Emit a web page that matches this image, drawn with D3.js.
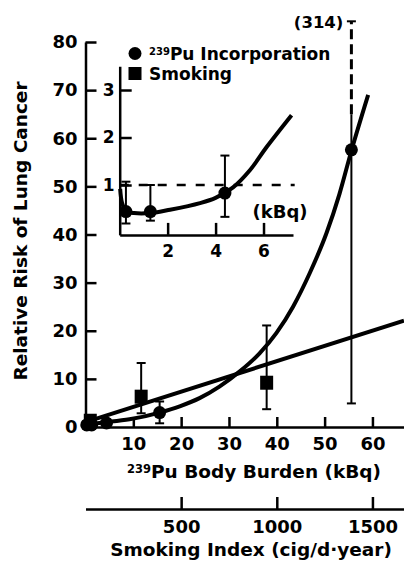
<!DOCTYPE html>
<html>
<head>
<meta charset="utf-8">
<script src="https://cdn.jsdelivr.net/npm/d3@7"></script>
<style>
  html, body { margin: 0; padding: 0; background: #fff; }
  svg { display: block; font-family: "DejaVu Sans", sans-serif; font-weight: bold; }
</style>
</head>
<body>
<svg id="chart" width="404" height="566"></svg>
<script>
// 239Pu incorporation: body burden (kBq) against relative risk, with confidence limits
const puBurden = [0.26, 1.28, 4.39, 15.5, 55.6];
const puRisk   = [0.44, 0.44, 0.83, 3.0, 57.6];
const puLow    = [0.19, 0.25, 0.33, 0.77, 4.9];
const puHigh   = [1.07, 1.0, 1.62, 5.3, 314];

// Smoking: smoking index (cig/d·year) against relative risk
const smokeIndex = [25, 291, 947];
const smokeRisk  = [1.3, 6.3, 9.2];
const smokeLow   = [null, 2.85, 3.7];
const smokeHigh  = [null, 13.3, 21.1];

// Fitted dose-response curves
const puFitBurden = [0, 3.3, 9.2, 15.5, 19.7, 23.85, 28.0, 32.2, 36.4, 39.9, 43.4, 46.9, 50.4, 53.1, 55.6, 59.1];
const puFitRisk   = [0.5, 0.9, 1.6, 3.0, 4.3, 6.0, 8.4, 11.5, 15.3, 19.5, 25.0, 32.0, 40.3, 48.4, 57.4, 69.0];
const lowFitBurden = [0.02, 0.1, 0.26, 0.6, 1.3, 2.1, 3.35, 4.0, 4.73, 5.43, 6.13, 7.17];
const lowFitRisk   = [0.92, 0.62, 0.46, 0.41, 0.41, 0.48, 0.62, 0.73, 0.95, 1.31, 1.8, 2.47];
const smokeFitIndex = [0, 1665];
const smokeFitRisk  = [1.0, 22.1];

// Tick values
const riskTicks = [0, 10, 20, 30, 40, 50, 60, 70, 80];
const burdenTicks = [10, 20, 30, 40, 50, 60];
const indexTicks = [500, 1000, 1500];
const insetRiskTicks = [1, 2, 3];
const insetBurdenTicks = [2, 4, 6];

// Off-scale upper limit: solid up to the break, dashed beyond the axis top
const BREAK_RISK = 65;
const OFFSCALE_RISK = 84.3;

const svg = d3.select("#chart");
const fmt = d3.format("d");

const x  = d3.scaleLinear().domain([0, 66.6]).range([85.5, 404]);
const xs = d3.scaleLinear().domain([0, 1665]).range([85.5, 404]);
const y  = d3.scaleLinear().domain([0, 80]).range([427, 42]);
const ix = d3.scaleLinear().domain([0, 7.23]).range([119.7, 293]);
const iy = d3.scaleLinear().domain([-0.05, 3.5]).range([234.9, 66.25]);

function styleAxis(g, size) {
  g.attr("font-family", null).attr("font-size", null);
  g.select(".domain").attr("stroke", "#000").attr("stroke-width", 2.5);
  g.selectAll(".tick line").attr("stroke", "#000").attr("stroke-width", 2.5);
  g.selectAll(".tick text").attr("font-size", size).attr("fill", "#000");
}

// Main axes
svg.append("g").attr("transform", `translate(${x(0)},0)`)
  .call(d3.axisLeft(y).tickValues(riskTicks).tickFormat(fmt)
    .tickSizeInner(-11).tickSizeOuter(0).tickPadding(8))
  .call(g => styleAxis(g, 18));

svg.append("g").attr("transform", `translate(0,${y(0)})`)
  .call(d3.axisBottom(x).tickValues(burdenTicks).tickFormat(fmt)
    .tickSizeInner(-10).tickSizeOuter(0).tickPadding(10))
  .call(g => styleAxis(g, 18));

svg.append("g").attr("transform", "translate(0,509)")
  .call(d3.axisBottom(xs).tickValues(indexTicks).tickFormat(fmt)
    .tickSizeInner(-12).tickSizeOuter(0).tickPadding(11))
  .call(g => styleAxis(g, 18));

// Axis titles
svg.append("text")
  .attr("transform", "translate(27,231) rotate(-90)")
  .attr("text-anchor", "middle").attr("font-size", 18.5)
  .text("Relative Risk of Lung Cancer");

const xt = svg.append("text").attr("x", 254).attr("y", 478)
  .attr("text-anchor", "middle").attr("font-size", 18.5);
xt.append("tspan").attr("font-size", 11.5).attr("dy", -5.5).text("239");
xt.append("tspan").attr("dy", 5.5).text("Pu Body Burden (kBq)");

svg.append("text").attr("x", 251).attr("y", 556)
  .attr("text-anchor", "middle").attr("font-size", 18.5)
  .text("Smoking Index (cig/d·year)");

// Curves in the main panel
const line = d3.line().curve(d3.curveMonotoneX);
const smooth = d3.line().curve(d3.curveCatmullRom.alpha(0.5));

svg.append("path")
  .attr("d", line(smokeFitIndex.map((v, i) => [xs(v), y(smokeFitRisk[i])])))
  .attr("fill", "none").attr("stroke", "#000").attr("stroke-width", 4);

svg.append("path")
  .attr("d", line(puFitBurden.map((v, i) => [x(v), y(puFitRisk[i])])))
  .attr("fill", "none").attr("stroke", "#000").attr("stroke-width", 4);

// Error bars
function vbar(g, px, y1, y2, dash) {
  g.append("line").attr("x1", px).attr("x2", px).attr("y1", y1).attr("y2", y2)
    .attr("stroke", "#000").attr("stroke-width", dash ? 3 : 2)
    .attr("stroke-dasharray", dash || null);
}
function cap(g, px, py) {
  g.append("line").attr("x1", px - 4.5).attr("x2", px + 4.5).attr("y1", py).attr("y2", py)
    .attr("stroke", "#000").attr("stroke-width", 2);
}

const errs = svg.append("g");
smokeIndex.forEach((s, i) => {
  if (smokeLow[i] == null) return;
  const px = xs(s);
  vbar(errs, px, y(smokeLow[i]), y(smokeHigh[i]));
  cap(errs, px, y(smokeLow[i]));
  cap(errs, px, y(smokeHigh[i]));
});

puBurden.forEach((b, i) => {
  const px = x(b);
  vbar(errs, px, y(puLow[i]), y(Math.min(puHigh[i], BREAK_RISK)));
  cap(errs, px, y(puLow[i]));
  if (puHigh[i] > y.domain()[1]) {
    vbar(errs, px, y(BREAK_RISK), y(OFFSCALE_RISK), "10,5");
    cap(errs, px, y(OFFSCALE_RISK));
    svg.append("text").attr("x", px - 8).attr("y", y(OFFSCALE_RISK) + 6.5)
      .attr("text-anchor", "end").attr("font-size", 16.5)
      .text(`(${puHigh[i]})`);
  } else {
    cap(errs, px, y(puHigh[i]));
  }
});

// Markers
svg.append("g").selectAll("circle").data(puBurden).join("circle")
  .attr("cx", d => x(d)).attr("cy", (d, i) => y(puRisk[i])).attr("r", 6.5).attr("fill", "#000");

svg.append("g").selectAll("rect").data(smokeIndex).join("rect")
  .attr("x", d => xs(d) - 6.5).attr("y", (d, i) => y(smokeRisk[i]) - 7)
  .attr("width", 13).attr("height", 14).attr("fill", "#000");

// Inset: low-dose range
const inset = svg.append("g");

inset.append("line")
  .attr("x1", ix(0)).attr("x2", ix(7.3)).attr("y1", iy(1)).attr("y2", iy(1))
  .attr("stroke", "#000").attr("stroke-width", 2.5).attr("stroke-dasharray", "9,10");

inset.append("g").attr("transform", `translate(${ix(0)},0)`)
  .call(d3.axisLeft(iy).tickValues(insetRiskTicks).tickFormat(fmt)
    .tickSizeInner(-12).tickSizeOuter(0).tickPadding(5))
  .call(g => styleAxis(g, 17));

inset.append("g").attr("transform", `translate(0,${iy(-0.05)})`)
  .call(d3.axisBottom(ix).tickValues(insetBurdenTicks).tickFormat(fmt)
    .tickSizeInner(-12).tickSizeOuter(0).tickPadding(10))
  .call(g => styleAxis(g, 17));

inset.append("text").attr("x", 280).attr("y", 218)
  .attr("text-anchor", "middle").attr("font-size", 18).text("(kBq)");

inset.append("path")
  .attr("d", smooth(lowFitBurden.map((v, i) => [ix(v), iy(lowFitRisk[i])])))
  .attr("fill", "none").attr("stroke", "#000").attr("stroke-width", 4);

puBurden.forEach((b, i) => {
  if (b > ix.domain()[1]) return;
  const px = ix(b);
  vbar(inset, px, iy(puLow[i]), iy(puHigh[i]));
  cap(inset, px, iy(puLow[i]));
  cap(inset, px, iy(puHigh[i]));
  inset.append("circle").attr("cx", px).attr("cy", iy(puRisk[i])).attr("r", 6.5).attr("fill", "#000");
});

// Legend
const legend = svg.append("g");
legend.append("circle").attr("cx", 135).attr("cy", 53.5).attr("r", 6.5).attr("fill", "#000");
legend.append("rect").attr("x", 128.5).attr("y", 67).attr("width", 13).attr("height", 13).attr("fill", "#000");
const lt = legend.append("text").attr("x", 149).attr("y", 60).attr("font-size", 17);
lt.append("tspan").attr("font-size", 10).attr("dy", -5).text("239");
lt.append("tspan").attr("dy", 5).text("Pu Incorporation");
legend.append("text").attr("x", 149).attr("y", 80).attr("font-size", 17).text("Smoking");
</script>
</body>
</html>
